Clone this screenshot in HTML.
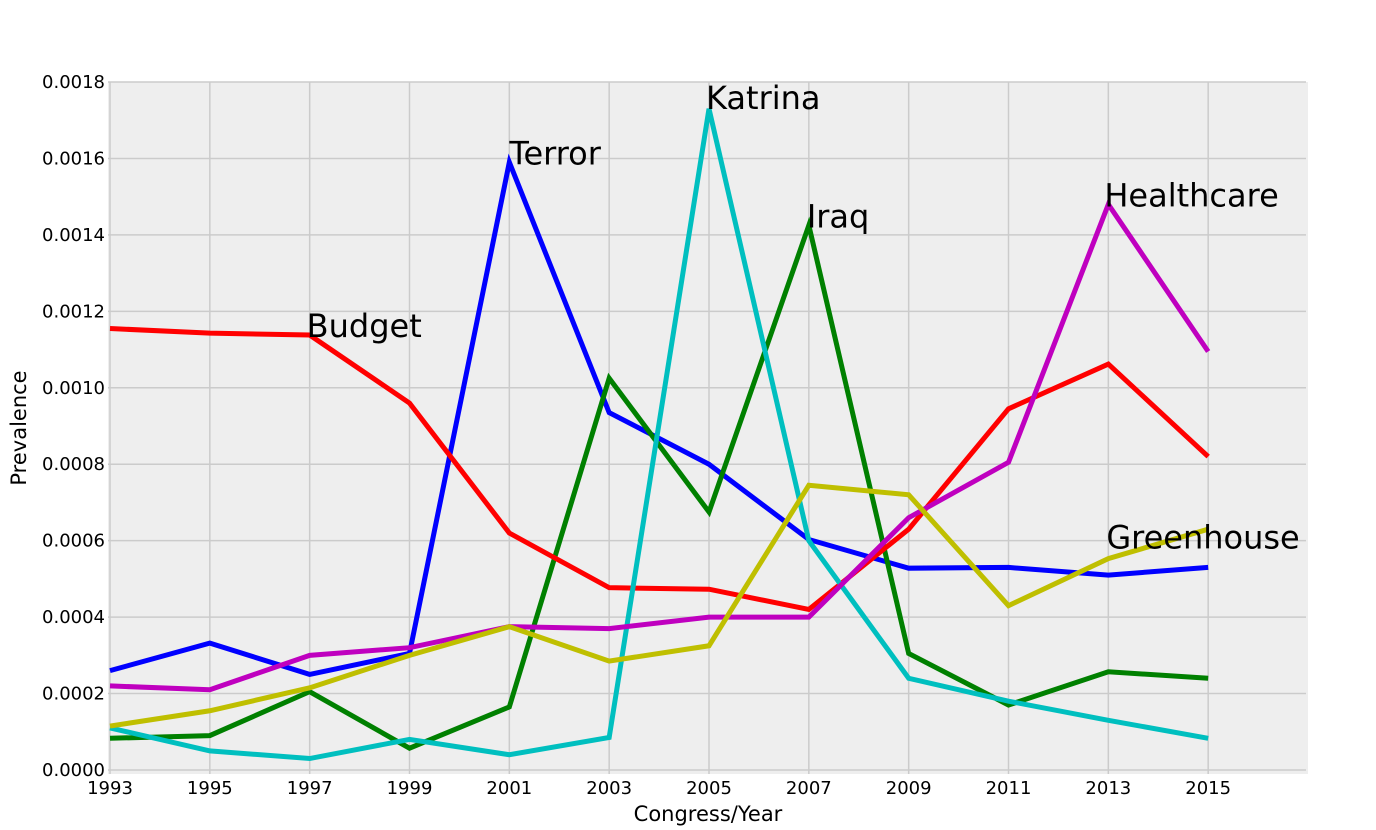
<!DOCTYPE html>
<html><head><meta charset="utf-8"><style>
body{margin:0;background:#fff;}
svg{display:block;font-family:"DejaVu Sans","Liberation Sans",sans-serif;}
</style></head><body>
<svg id="chart" width="1376" height="830" viewBox="0 0 1376 830">
<rect x="108" y="82" width="1200" height="692" fill="#eeeeee"/>
<g id="grid"></g><g id="ticks"></g><g id="lines"></g><g id="labels"></g>
<text x="708" y="821" font-size="21" text-anchor="middle">Congress/Year</text>
<text transform="translate(26,428) rotate(-90)" font-size="21" text-anchor="middle">Prevalence</text>
</svg>
<script>
const years=[1993,1995,1997,1999,2001,2003,2005,2007,2009,2011,2013,2015];
const yTicks=[0,0.0002,0.0004,0.0006,0.0008,0.001,0.0012,0.0014,0.0016,0.0018];
const yTickLabels=["0.0000","0.0002","0.0004","0.0006","0.0008","0.0010","0.0012","0.0014","0.0016","0.0018"];
const terror=[0.00026,0.000332,0.00025,0.000305,0.00159,0.000935,0.0008,0.000603,0.000528,0.00053,0.00051,0.00053];
const iraq=[0.000083,0.00009,0.000205,0.000057,0.000165,0.001025,0.000675,0.001425,0.000305,0.00017,0.000257,0.00024];
const budget=[0.001155,0.001143,0.001138,0.00096,0.00062,0.000477,0.000473,0.00042,0.00063,0.000945,0.001062,0.00082];
const katrina=[0.00011,0.00005,0.00003,0.00008,0.00004,0.000085,0.00173,0.0006,0.00024,0.00018,0.00013,0.000083];
const healthcare=[0.00022,0.00021,0.0003,0.00032,0.000375,0.00037,0.0004,0.0004,0.00066,0.000805,0.00148,0.001095];
const greenhouse=[0.000115,0.000155,0.000215,0.0003,0.000375,0.000285,0.000325,0.000745,0.00072,0.00043,0.000553,0.00063];
const series=[
 {name:"Terror",vals:terror,color:"#0000ff",li:4,dx:0,dy:2},
 {name:"Iraq",vals:iraq,color:"#008000",li:7,dx:-2,dy:2},
 {name:"Budget",vals:budget,color:"#ff0000",li:2,dx:-3,dy:2},
 {name:"Katrina",vals:katrina,color:"#00bfbf",li:6,dx:-3,dy:0},
 {name:"Healthcare",vals:healthcare,color:"#bf00bf",li:10,dx:-4,dy:2},
 {name:"Greenhouse",vals:greenhouse,color:"#bfbf00",li:10,dx:-2,dy:-10}
];
const NS="http://www.w3.org/2000/svg";
const xS=v=>110+(v-1993)*(1198/24);
const yS=v=>770-v*(688/0.0018);
function mk(t,a,p){const e=document.createElementNS(NS,t);for(const k in a)e.setAttribute(k,a[k]);p.appendChild(e);return e;}
const grid=document.getElementById('grid'),ticks=document.getElementById('ticks'),lines=document.getElementById('lines'),labels=document.getElementById('labels');
years.forEach(y=>{
 const l=mk('line',{x1:xS(y),x2:xS(y),y1:82,y2:774,stroke:'#cbcbcb','stroke-width':1.5},grid);
 
 
 const t=mk('text',{x:xS(y),y:794,'font-size':18,'text-anchor':'middle'},ticks);t.textContent=y;
 
 
});
yTicks.forEach((v,i)=>{
 const l=mk('line',{x1:108,x2:1306,y1:yS(v),y2:yS(v),stroke:'#cbcbcb','stroke-width':1.5},grid);
 
 
 const t=mk('text',{x:105,y:yS(v)+6,'font-size':18,'text-anchor':'end'},ticks);t.textContent=yTickLabels[i];
 
 
});
series.forEach(s=>{
 const p=mk('polyline',{points:s.vals.map((v,i)=>xS(years[i])+','+yS(v)).join(' '),fill:'none',stroke:s.color,'stroke-width':5,'stroke-linejoin':'miter'},lines);
 
 
 const t=mk('text',{x:xS(years[s.li])+s.dx,y:yS(s.vals[s.li])+s.dy,'font-size':32},labels);
 t.textContent=s.name;
 
 
});
</script>
</body></html>
